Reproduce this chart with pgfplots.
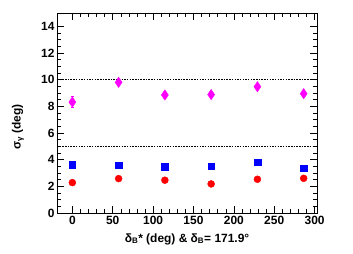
\documentclass[border=0pt]{standalone}
\usepackage{pgfplots}
\pgfplotsset{compat=1.18}
\usepackage{fontspec}
\setmainfont{Liberation Sans}
\definecolor{rootmag}{RGB}{255,0,255}
\definecolor{rootblue}{RGB}{0,0,255}
\definecolor{rootred}{RGB}{255,0,0}
\begin{document}
\begin{tikzpicture}[x=1bp,y=1bp]
\path[use as bounding box] (0,0) rectangle (353,254);
\begin{axis}[
  at={(57bp,41bp)}, anchor=south west,
  scale only axis, width=260bp, height=200bp,
  xmin=-19, xmax=303, ymin=0, ymax=15,
  xtick={0,50,...,300}, minor x tick num=4,
  ytick={0,2,...,14}, minor y tick num=3,
  tick align=inside, major tick length=7bp, minor tick length=4bp,
  tick style={black, line width=0.5pt},
  axis line style={line width=0.8pt},
  ticklabel style={font=\fontsize{12}{14}\selectfont\bfseries},
  /pgf/number format/assume math mode=true,
  xticklabel style={yshift=0bp},
  yticklabel style={xshift=1bp},
  clip=false,
]
\draw[black, line width=0.5pt, dash pattern=on 1.5pt off 1.2pt] (axis cs:-19,10) -- (axis cs:303,10);
\draw[black, line width=0.5pt, dash pattern=on 1.5pt off 1.2pt] (axis cs:-19,5) -- (axis cs:303,5);
\addplot[only marks, color=rootmag, mark=diamond*, mark size=5.2pt,
  mark options={draw=rootmag, fill=rootmag, xscale=0.9},
  error bars/.cd, y dir=both, y explicit, error bar style={line width=0.9pt, rootmag}, error mark options={rotate=90, mark size=1.5pt, rootmag}]
  coordinates {
  (0,8.32) +- (0,0.42)
  (57.3,9.80) +- (0,0.2)
  (114.6,8.85) +- (0,0.2)
  (171.9,8.88) +- (0,0.2)
  (229.2,9.47) +- (0,0.2)
  (286.5,8.95) +- (0,0.2)
  };
\addplot[only marks, color=rootblue, mark=square*, mark size=3.3pt]
  coordinates {
  (0,3.63) (57.3,3.60) (114.6,3.47) (171.9,3.50) (229.2,3.82) (286.5,3.36)
  };
\addplot[only marks, color=rootred, mark=*, mark size=3.5pt]
  coordinates {
  (0,2.28) (57.3,2.58) (114.6,2.46) (171.9,2.18) (229.2,2.53) (286.5,2.60)
  };
\end{axis}
\node[rotate=90, font=\fontsize{12}{14}\selectfont\bfseries] at (18,127) {σ\textsubscript{γ} (deg)};
\node[font=\fontsize{12}{14}\selectfont\bfseries] at (187,15) {δ\textsubscript{B}* (deg) \& δ\textsubscript{B}= 171.9°};
\end{tikzpicture}
\end{document}
